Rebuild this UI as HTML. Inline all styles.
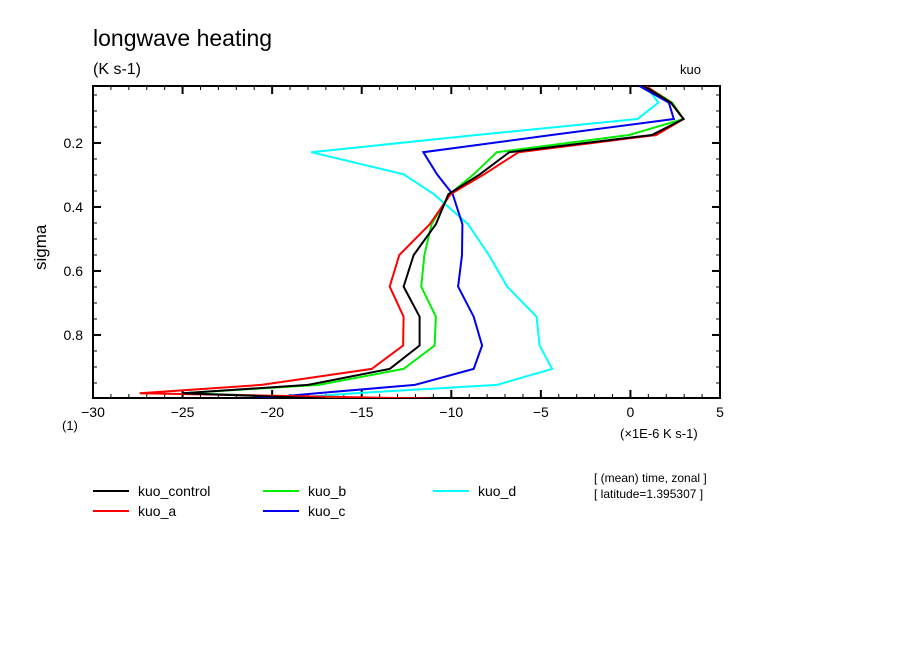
<!DOCTYPE html>
<html><head><meta charset="utf-8"><style>
body{margin:0;background:#fff;}
svg text{font-family:"Liberation Sans",sans-serif;fill:#000;}
</style></head><body>
<svg id="chart" width="904" height="654" xmlns="http://www.w3.org/2000/svg">
<rect width="904" height="654" fill="#fff"/>
<text x="93" y="46" font-size="23">longwave heating</text>
<text x="93" y="74" font-size="16">(K s-1)</text>
<text x="680" y="74" font-size="13">kuo</text>
<text x="0" y="0" font-size="17" transform="translate(46,270) rotate(-90)">sigma</text>
<text x="62" y="430" font-size="13">(1)</text>
<text x="620" y="438" font-size="13">(×1E-6 K s-1)</text>
<text x="594" y="482" font-size="12">[ (mean) time, zonal ]</text>
<text x="594" y="498" font-size="12">[ latitude=1.395307 ]</text>
<g id="axes"></g>
<g id="series"></g>
<g id="legend"></g>
</svg>
<script>
const sigmaLevels=[0.022,0.074,0.125,0.175,0.229,0.298,0.36,0.454,0.55,0.649,0.743,0.833,0.906,0.956,0.982,0.999];
const kuoControl=[0.74,2.26,2.96,1.2,-6.76,-8.4,-10.16,-10.86,-12.1,-12.66,-11.77,-11.77,-13.44,-18.0,-25.0,-17.0];
const kuoA=[0.85,2.26,2.96,1.44,-6.24,-8.17,-10.04,-11.2,-12.9,-13.44,-12.66,-12.69,-14.44,-20.6,-27.4,-11.2];
const kuoB=[0.85,2.33,2.96,-0.08,-7.46,-8.75,-10.09,-11.1,-11.5,-11.68,-10.86,-10.93,-12.66,-17.4,-25.0,-14.96];
const kuoC=[0.5,2.14,2.42,-4.4,-11.56,-10.8,-9.92,-9.38,-9.4,-9.62,-8.75,-8.28,-8.75,-12.03,-17.5,-20.8];
const kuoD=[0.85,1.56,0.39,-8.6,-17.82,-12.66,-10.97,-9.06,-7.9,-6.88,-5.24,-5.07,-4.37,-7.46,-15.4,-19.4];
const seriesNames=["kuo_control","kuo_a","kuo_b","kuo_c","kuo_d"];
const xTicks=[-30,-25,-20,-15,-10,-5,0,5];
const yTicks=[0.2,0.4,0.6,0.8];

const NS="http://www.w3.org/2000/svg";
const L=93,R=720,T=86,B=398,xMin=-30,xMax=5,yMin=0.022,yMax=0.997;
const xs=v=>L+(v-xMin)/(xMax-xMin)*(R-L);
const ys=s=>T+(s-yMin)/(yMax-yMin)*(B-T);
function mk(tag,attrs,parent){const e=document.createElementNS(NS,tag);for(const k in attrs)e.setAttribute(k,attrs[k]);parent.appendChild(e);return e;}
const axes=document.getElementById('axes');
const frame=mk('rect',{x:L,y:T,width:R-L,height:B-T,fill:'none',stroke:'#000','stroke-width':2},axes);


for(let v=xMin;v<=xMax;v++){
  const major=v%5===0, len=major?8:4, x=xs(v);
  const t1=mk('line',{x1:x,y1:B,x2:x,y2:B-len,stroke:'#000','stroke-width':major?2:1},axes);
  
  
  const t2=mk('line',{x1:x,y1:T,x2:x,y2:T+len,stroke:'#000','stroke-width':major?2:1},axes);
  
  
}
xTicks.forEach(v=>{
  const t=mk('text',{x:xs(v),y:B+19,'font-size':14,'text-anchor':'middle'},axes);
  t.textContent=v<0?'\u2212'+(-v):String(v);
  
  
});
for(let i=1;i<20;i++){
  const s=i*0.05; if(s<yMin||s>yMax) continue;
  const major=Math.abs(s*10-Math.round(s*10))<1e-6 && Math.round(s*10)%2===0;
  const len=major?8:4,y=ys(s);
  const a=mk('line',{x1:L,y1:y,x2:L+len,y2:y,stroke:'#000','stroke-width':major?2:1},axes);
  
  
  const b=mk('line',{x1:R,y1:y,x2:R-len,y2:y,stroke:'#000','stroke-width':major?2:1},axes);
  
  
}
yTicks.forEach(s=>{
  const t=mk('text',{x:L-10,y:ys(s)+5,'font-size':14,'text-anchor':'end'},axes);
  t.textContent=String(s);
  
  
});
const defs=mk('defs',{},document.getElementById('chart'));
const cp=mk('clipPath',{id:'clip'},defs);
mk('rect',{x:L,y:T,width:R-L,height:B-T},cp);
const sg=document.getElementById('series');
sg.setAttribute('clip-path','url(#clip)');
const data=[kuoControl,kuoA,kuoB,kuoC,kuoD];
const colors=['#000000','#ff0000','#00ee00','#0000ee','#00ffff'];
const drawOrder=[4,3,2,1,0];
drawOrder.forEach(i=>{
  const pts=data[i].map((v,j)=>xs(v).toFixed(1)+','+ys(sigmaLevels[j]).toFixed(1)).join(' ');
  const p=mk('polyline',{points:pts,fill:'none',stroke:colors[i],'stroke-width':2},sg);
  
  
});
const lg=document.getElementById('legend');
const pos=[[93,496],[93,516],[263,496],[263,516],[433,496]];
seriesNames.forEach((n,i)=>{
  const [x,y]=pos[i];
  const g=mk('g',{},lg);
  
  
  mk('line',{x1:x,y1:y-5,x2:x+36,y2:y-5,stroke:colors[i],'stroke-width':2},g);
  const t=mk('text',{x:x+45,y:y,'font-size':14},g);
  t.textContent=n;
});
</script>
</body></html>
